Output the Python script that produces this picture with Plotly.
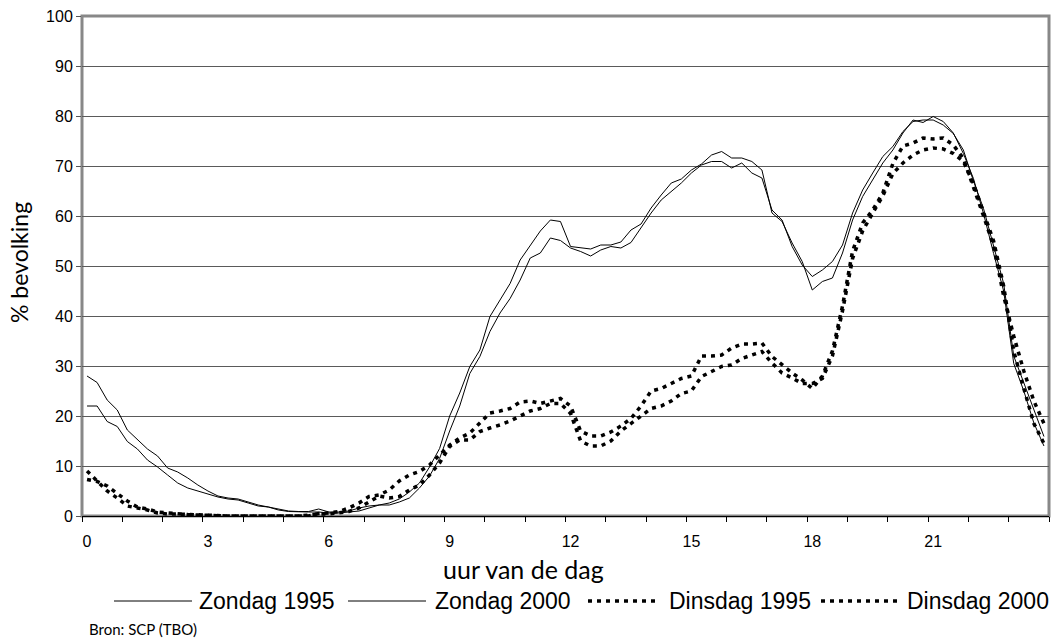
import plotly.graph_objects as go

# time slots: 15-minute intervals over the day (hours)
slot_hours = [i * 0.25 for i in range(96)]
tick_hours = [0, 3, 6, 9, 12, 15, 18, 21]
tick_labels = ["0", "3", "6", "9", "12", "15", "18", "21"]

zondag_1995 = [
    28.0, 26.7, 23.2, 21.2, 17.2, 15.2, 13.4, 12.0, 9.6, 8.8, 7.6, 6.2,
    5.0, 4.0, 3.6, 3.4, 2.8, 2.2, 1.8, 1.4, 1.0, 0.9, 0.9, 1.4,
    0.8, 0.8, 1.0, 1.6, 2.0, 2.2, 2.6, 3.4, 4.8, 6.6, 9.8, 13.5,
    20.0, 24.6, 29.9, 33.2, 39.9, 43.2, 46.5, 51.2, 54.2, 57.0, 59.2, 58.9,
    53.9, 53.6, 53.4, 54.2, 54.2, 54.8, 57.2, 58.4, 61.6, 64.2, 66.6, 67.4,
    69.2, 70.4, 72.2, 72.9, 71.6, 71.6, 70.9, 69.2, 60.6, 58.9, 54.6, 50.9,
    45.2, 46.9, 47.6, 52.6, 59.2, 63.9, 67.2, 70.6, 73.2, 76.6, 79.2, 78.7,
    79.9, 78.9, 76.6, 72.5, 67.5, 60.5, 52.5, 45.0, 30.5, 25.0, 18.6, 14.0,
]
zondag_2000 = [
    22.0, 22.0, 18.9, 17.9, 14.9, 13.4, 11.2, 9.8, 8.2, 6.6, 5.6, 5.0,
    4.4, 3.8, 3.4, 3.2, 2.6, 2.0, 1.8, 1.2, 0.9, 0.8, 0.8, 0.8,
    0.6, 0.6, 0.8, 1.0, 1.6, 2.2, 2.2, 2.8, 3.6, 5.6, 8.0, 11.5,
    17.0, 22.0, 28.5, 31.9, 36.9, 40.6, 43.5, 47.2, 51.6, 52.6, 55.6, 55.1,
    53.6, 52.9, 52.0, 53.2, 53.9, 53.6, 54.7, 57.6, 60.6, 63.2, 64.9, 66.6,
    68.6, 70.2, 70.9, 70.9, 69.6, 70.6, 68.6, 67.6, 61.2, 59.2, 53.9, 50.2,
    47.9, 49.2, 50.9, 54.2, 60.6, 65.2, 68.6, 71.9, 73.9, 76.9, 78.9, 79.2,
    79.2, 78.2, 76.5, 73.2, 67.0, 61.5, 54.0, 46.5, 32.0, 26.5, 21.0, 15.9,
]
dinsdag_1995 = [
    9.0, 7.0, 5.0, 3.6, 2.0, 1.6, 1.2, 0.6, 0.4, 0.4, 0.3, 0.2,
    0.1, 0.1, 0.0, 0.0, 0.0, 0.0, 0.0, 0.0, 0.0, 0.0, 0.0, 0.5,
    0.6, 0.9, 1.6, 2.6, 3.9, 4.2, 5.2, 7.0, 8.2, 8.9, 10.2, 12.2,
    14.2, 15.6, 16.6, 18.6, 20.6, 21.0, 21.5, 22.8, 23.0, 22.5, 23.0, 23.5,
    22.0, 17.0, 16.0, 16.0, 16.8, 18.0, 19.5, 22.0, 25.0, 25.5, 26.5, 27.5,
    28.0, 32.0, 32.0, 32.2, 33.6, 34.4, 34.4, 34.6, 31.9, 30.2, 28.6, 27.2,
    25.5, 28.0, 33.0, 42.0, 53.0, 58.6, 61.2, 64.6, 70.5, 74.0, 74.6, 75.6,
    75.4, 75.6, 74.2, 71.5, 66.0, 60.0, 54.0, 44.0, 36.0, 29.0, 23.0, 18.5,
]
dinsdag_2000 = [
    7.3, 6.9, 6.0, 4.4, 3.0, 1.8, 1.4, 0.8, 0.6, 0.5, 0.3, 0.2,
    0.1, 0.0, 0.0, 0.0, 0.0, 0.0, 0.0, 0.0, 0.0, 0.0, 0.2, 0.4,
    0.4, 0.6, 0.9, 1.6, 2.9, 4.0, 3.6, 3.9, 5.2, 6.2, 8.2, 10.6,
    13.9, 15.2, 15.2, 16.9, 17.6, 18.2, 19.0, 20.0, 21.0, 21.5, 22.5, 22.5,
    20.5, 15.0, 14.0, 14.0, 15.0, 17.0, 18.5, 20.0, 21.5, 22.0, 23.0, 24.5,
    25.0, 27.9, 29.0, 29.9, 30.2, 31.5, 32.2, 32.9, 30.6, 28.6, 27.6, 26.5,
    26.5, 27.5, 32.0, 41.0, 51.5, 57.0, 60.6, 64.0, 68.5, 70.6, 72.2, 73.2,
    73.6, 73.4, 72.5, 70.9, 66.5, 61.0, 55.0, 46.0, 33.0, 25.5, 18.5, 14.5,
]

series_names = ["Zondag 1995", "Zondag 2000", "Dinsdag 1995", "Dinsdag 2000"]
series_values = [zondag_1995, zondag_2000, dinsdag_1995, dinsdag_2000]

SOLID = dict(color="black", width=1)
DOTTED = dict(color="black", width=3.5, dash="4px,5px")

# category centre positions (half a slot to the right of the slot start)
x_pos = [h + 0.125 for h in slot_hours]

fig = go.Figure()
for name, vals in zip(series_names, series_values):
    line = SOLID if name.startswith("Zondag") else DOTTED
    fig.add_trace(go.Scatter(x=x_pos, y=vals, mode="lines", name=name, line=line,
                             showlegend=False, hoverinfo="skip"))

W, H = 1053, 640
L, R, T, B = 82, 4, 16, 124
PW, PH = W - L - R, H - T - B


def px(x):
    return (x - L) / PW


def py(y):
    return (T + PH - y) / PH


fig.update_layout(
    width=W, height=H,
    margin=dict(l=L, r=R, t=T, b=B, autoexpand=False),
    paper_bgcolor="white", plot_bgcolor="white",
    font=dict(family="Liberation Sans, Arial, sans-serif", color="black", size=16),
    showlegend=False,
)

fig.update_xaxes(
    range=[0, 24], showgrid=False, zeroline=False, automargin=False,
    tickmode="array", tickvals=[h + 0.125 for h in tick_hours], ticktext=tick_labels,
    ticks="", ticklabelstandoff=11,
    tickfont=dict(size=16, family="Liberation Sans, Arial, sans-serif"),
    showline=True, linecolor="black", linewidth=1,
    minor=dict(ticks="outside", tick0=0, dtick=1, ticklen=5, tickcolor="black",
               tickwidth=1, showgrid=False),
)
fig.update_yaxes(
    range=[0, 100], dtick=10, tick0=0, automargin=False,
    showgrid=True, gridcolor="#5a5a5a", gridwidth=1, zeroline=False,
    ticks="outside", ticklen=5, tickcolor="#555", tickwidth=1,
    tickfont=dict(size=16, family="Liberation Sans, Arial, sans-serif"),
    showline=False,
)

# plot area frame (grey, Excel-style)
fig.add_shape(type="rect", xref="paper", yref="paper", x0=0, x1=1, y0=0, y1=1,
              line=dict(color="#888888", width=3), layer="below")

# legend drawn as line samples + labels (Excel-like wide samples)
legend_y = 601
legend_items = [
    (114, 192, 197),
    (348, 426, 433),
    (588, 658, 667),
    (821, 898, 905),
]
for name, (x0, x1, xt) in zip(series_names, legend_items):
    line = SOLID if name.startswith("Zondag") else DOTTED
    fig.add_shape(type="line", xref="paper", yref="paper",
                  x0=px(x0), x1=px(x1), y0=py(legend_y), y1=py(legend_y), line=line)
    fig.add_annotation(text=name, xref="paper", yref="paper",
                       x=px(xt), y=py(legend_y), xanchor="left", yanchor="middle",
                       showarrow=False,
                       font=dict(family="Liberation Sans, Arial, sans-serif", size=23,
                                 color="black"))

fig.add_annotation(text="uur van de dag", xref="paper", yref="paper",
                   x=px(523), y=py(569), xanchor="center", yanchor="middle",
                   showarrow=False,
                   font=dict(family="Lato, sans-serif", size=25, color="black"))
fig.add_annotation(text="% bevolking", xref="paper", yref="paper",
                   x=px(19), y=py(263), xanchor="center", yanchor="middle",
                   showarrow=False, textangle=-90,
                   font=dict(family="Lato, sans-serif", size=23, color="black"))
fig.add_annotation(text="Bron: SCP (TBO)", xref="paper", yref="paper",
                   x=px(87), y=py(629), xanchor="left", yanchor="middle",
                   showarrow=False,
                   font=dict(family="Lato, sans-serif", size=15, color="black"))

# remove the browser's default page margin so the figure sits at (0, 0)
fig.write_html("out.html",
               config={"displayModeBar": False, "staticPlot": True},
               post_script="document.body.style.margin='0';document.body.style.overflow='hidden';")
